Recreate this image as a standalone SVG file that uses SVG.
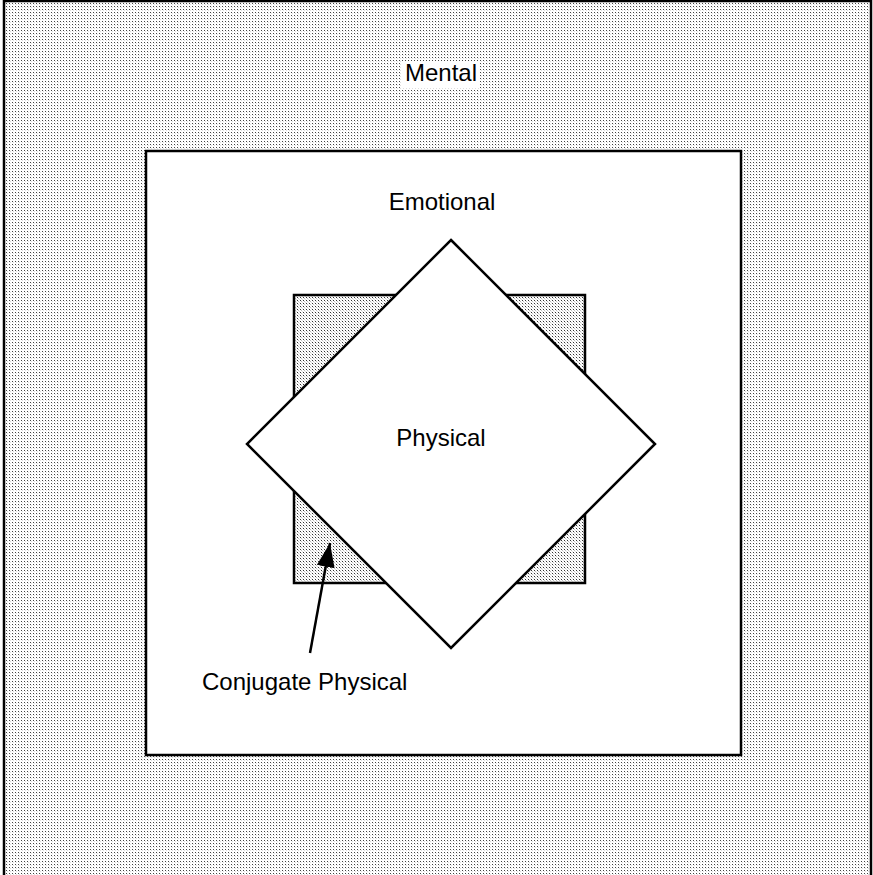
<svg xmlns="http://www.w3.org/2000/svg" width="873" height="875" viewBox="0 0 873 875">
<style>
.lbl{font-family:"Liberation Sans",Arial,sans-serif;font-size:24px;fill:#000;}
.box{stroke:#000;stroke-width:2.5;}
</style>
<defs>
<pattern id="dots" width="3" height="3" patternUnits="userSpaceOnUse">
<rect width="3" height="3" fill="#fff"/>
<rect x="0" y="0" width="1" height="1" fill="#444"/>
<rect x="1" y="1" width="1" height="1" fill="#ddd"/>
</pattern>
<pattern id="dots2" width="3" height="3" patternUnits="userSpaceOnUse">
<rect width="3" height="3" fill="#fff"/>
<rect x="0" y="0" width="1" height="1" fill="#333"/>
<rect x="1" y="1" width="1" height="1" fill="#bbb"/>
<rect x="2" y="2" width="1" height="1" fill="#ddd"/>
</pattern>
<marker id="ah" viewBox="0 0 10 10" refX="10" refY="5" markerWidth="10" markerHeight="10" markerUnits="userSpaceOnUse" orient="auto">
<path d="M0,0 L10,5 L0,10 z" fill="#000"/>
</marker>
<marker id="ah2" viewBox="0 0 24 18" refX="24" refY="9" markerWidth="24" markerHeight="18" markerUnits="userSpaceOnUse" orient="auto">
<path d="M0,0 L24,9 L0,18 z" fill="#000"/>
</marker>
</defs>
<g id="mental">
<rect x="4" y="1" width="867" height="880" fill="url(#dots)" class="box"/>
<rect x="402" y="61" width="78" height="27" fill="#fff"/>
<text x="441" y="81" text-anchor="middle" class="lbl">Mental</text>
</g>
<g id="emotional">
<rect x="146" y="151" width="595" height="604" fill="#fff" class="box"/>
<text x="442" y="210" text-anchor="middle" class="lbl">Emotional</text>
</g>
<g id="conjugate-physical">
<rect x="294" y="295" width="291" height="288" fill="url(#dots2)" class="box"/>
<text x="202" y="690" class="lbl">Conjugate Physical</text>
</g>
<g id="physical">
<polygon points="451,240 655,444 451,648 247,444" fill="#fff" class="box"/>
<text x="441" y="446" text-anchor="middle" class="lbl">Physical</text>
</g>
<g id="connectors">
<line x1="310" y1="653" x2="330" y2="543" stroke="#000" stroke-width="2.5" marker-end="url(#ah2)"/>
</g>
</svg>
